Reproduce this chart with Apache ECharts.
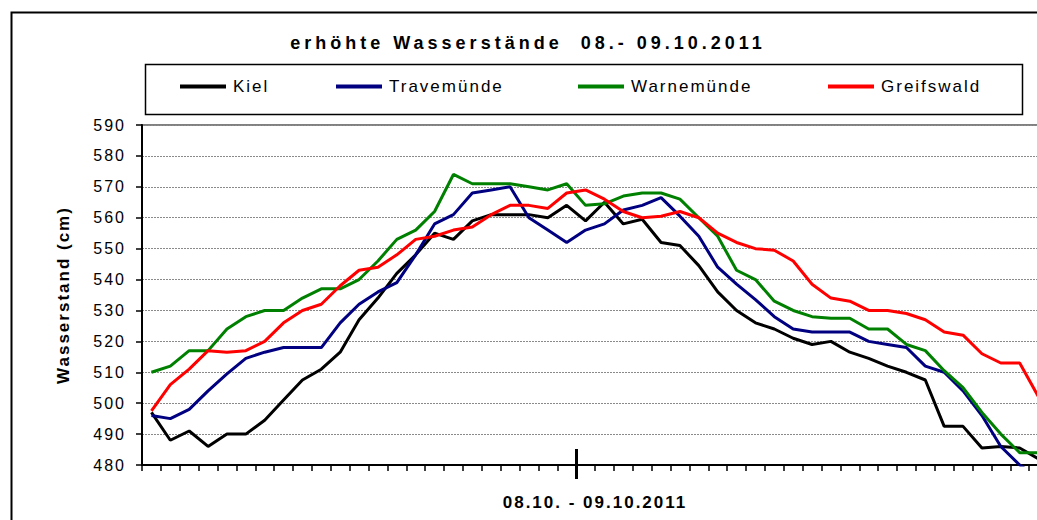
<!DOCTYPE html>
<html>
<head>
<meta charset="utf-8">
<title>erhöhte Wasserstände 08.- 09.10.2011</title>
<script src="https://cdn.jsdelivr.net/npm/echarts@6/dist/echarts.min.js"></script>
<style>
html, body { margin: 0; padding: 0; background: #fff; overflow: hidden; }
/* Diagramm ist rechts angeschnitten wie im Original */
#main { width: 1048px; height: 520px; }
#main text { letter-spacing: 2px; }
#main text[style*="18px"] { letter-spacing: 4px; }
</style>
</head>
<body>
<div id="main"></div>
<script>
// Stundenwerte 08.10. - 09.10.2011
var times = [
  '08.10. 01:00', '08.10. 02:00', '08.10. 03:00', '08.10. 04:00', '08.10. 05:00', '08.10. 06:00',
  '08.10. 07:00', '08.10. 08:00', '08.10. 09:00', '08.10. 10:00', '08.10. 11:00', '08.10. 12:00',
  '08.10. 13:00', '08.10. 14:00', '08.10. 15:00', '08.10. 16:00', '08.10. 17:00', '08.10. 18:00',
  '08.10. 19:00', '08.10. 20:00', '08.10. 21:00', '08.10. 22:00', '08.10. 23:00',
  '09.10. 00:00', '09.10. 01:00', '09.10. 02:00', '09.10. 03:00', '09.10. 04:00', '09.10. 05:00',
  '09.10. 06:00', '09.10. 07:00', '09.10. 08:00', '09.10. 09:00', '09.10. 10:00', '09.10. 11:00',
  '09.10. 12:00', '09.10. 13:00', '09.10. 14:00', '09.10. 15:00', '09.10. 16:00', '09.10. 17:00',
  '09.10. 18:00', '09.10. 19:00', '09.10. 20:00', '09.10. 21:00', '09.10. 22:00', '09.10. 23:00',
  '09.10. 24:00'
];

var kiel = [497, 488, 491, 486, 490, 490, 494.5, 501, 507.5, 511, 516.5, 527,
  534, 542, 548, 555, 553, 559, 561, 561, 561, 560, 564, 559,
  565, 558, 559.5, 552, 551, 544.5, 536, 530, 526, 524, 521, 519,
  520, 516.5, 514.5, 512, 510, 507.5, 492.5, 492.5, 485.5, 486, 485.5, 482];

var travemuende = [496, 495, 498, 504, 509.5, 514.5, 516.5, 518, 518, 518, 526, 532,
  536, 539, 548, 558, 561, 568, 569, 570, 560, 556, 552, 556,
  558, 562.5, 564, 566.5, 560.5, 554, 544, 538.5, 533.5, 528, 524, 523,
  523, 523, 520, 519, 518, 512, 510, 504, 496, 486, 480, 476];

var warnemuende = [510, 512, 517, 517, 524, 528, 530, 530, 534, 537, 537, 540,
  546, 553, 556, 562, 574, 571, 571, 571, 570, 569, 571, 564,
  564.5, 567, 568, 568, 566, 560, 554, 543, 540, 533, 530, 528,
  527.5, 527.5, 524, 524, 519, 517, 510.5, 505, 497, 490, 484, 484];

var greifswald = [497.5, 506, 511, 517, 516.5, 517, 520, 526, 530, 532, 538, 543,
  544, 548, 553, 554, 556, 557, 561, 564, 564, 563, 568, 569,
  566, 562, 560, 560.5, 562, 560, 555, 552, 550, 549.5, 546, 538.5,
  534, 533, 530, 530, 529, 527, 523, 522, 516, 513, 513, 502];

var stations = ['Kiel', 'Travemünde', 'Warnemünde', 'Greifswald'];
var colors = ['#000000', '#000080', '#008000', '#ff0000'];

var dayBreak = times.indexOf('09.10. 00:00');
var font = '"Liberation Sans", Arial, sans-serif';

var main = echarts.init(document.getElementById('main'), null, { renderer: 'svg' });

function line(i, data) {
  return {
    name: stations[i],
    type: 'line',
    data: data,
    symbol: 'none',
    smooth: false,
    lineStyle: { color: colors[i], width: 3 },
    itemStyle: { color: colors[i] }
  };
}

// eine Legende je Station, Positionen wie im Original
var legendLeft = [180, 336, 578, 828];
var legends = stations.map(function (s, i) {
  return {
    data: [s],
    left: legendLeft[i],
    top: 78,
    padding: 0,
    itemWidth: 46,
    itemHeight: 4,
    icon: 'rect',
    selectedMode: false,
    textStyle: { fontFamily: font, fontSize: 17, color: '#000', padding: [0, 0, 0, 2] }
  };
});

option = {
  backgroundColor: '#fff',
  animation: false,
  textStyle: { fontFamily: font },
  graphic: [
    {
      type: 'rect',
      left: 9,
      top: 10,
      shape: { width: 1080, height: 540 },
      style: { fill: 'none', stroke: '#000', lineWidth: 2 }
    },
    {
      type: 'rect',
      left: 143,
      top: 62,
      shape: { width: 877, height: 50 },
      style: { fill: 'none', stroke: '#000', lineWidth: 1.5 }
    }
  ],
  title: {
    text: 'erhöhte Wasserstände  08.- 09.10.2011',
    left: 528,
    top: 34,
    padding: 0,
    textAlign: 'center',
    textStyle: { fontFamily: font, fontSize: 18, fontWeight: 'bold', color: '#000' }
  },
  legend: legends,
  grid: {
    left: 142,
    top: 125,
    right: 0,
    bottom: 55,
    show: true,
    borderColor: '#808080',
    borderWidth: 2
  },
  xAxis: [
    {
      type: 'category',
      data: times,
      boundaryGap: true,
      name: '08.10. - 09.10.2011',
      nameLocation: 'middle',
      nameGap: 29,
      nameTextStyle: { fontFamily: font, fontSize: 17, fontWeight: 'bold', color: '#000' },
      axisLine: { show: true, lineStyle: { color: '#000', width: 2 } },
      axisTick: { show: true, interval: 0, length: 6, lineStyle: { color: '#000', width: 1.5 } },
      axisLabel: { show: false },
      splitLine: { show: false }
    },
    {
      // langer Strich am Tageswechsel
      type: 'value',
      min: 0,
      max: times.length,
      position: 'bottom',
      offset: -16,
      axisLine: { show: false },
      axisTick: {
        show: true,
        length: 30,
        customValues: [dayBreak],
        lineStyle: { color: '#000', width: 3 }
      },
      axisLabel: { show: false },
      splitLine: { show: false }
    }
  ],
  yAxis: {
    type: 'value',
    min: 480,
    max: 590,
    interval: 10,
    name: 'Wasserstand (cm)',
    nameLocation: 'middle',
    nameRotate: 90,
    nameGap: 70,
    nameTextStyle: { fontFamily: font, fontSize: 17, fontWeight: 'bold', color: '#000' },
    axisLine: { show: true, lineStyle: { color: '#000', width: 2 } },
    axisTick: { show: true, length: 6, lineStyle: { color: '#000', width: 1.5 } },
    axisLabel: { fontFamily: font, fontSize: 16, color: '#000', margin: 16 },
    splitLine: { show: true, lineStyle: { color: '#8a8a8a', type: [2, 1], width: 1 } }
  },
  series: [
    line(0, kiel),
    line(1, travemuende),
    line(2, warnemuende),
    line(3, greifswald)
  ]
};

main.setOption(option);
</script>
</body>
</html>
